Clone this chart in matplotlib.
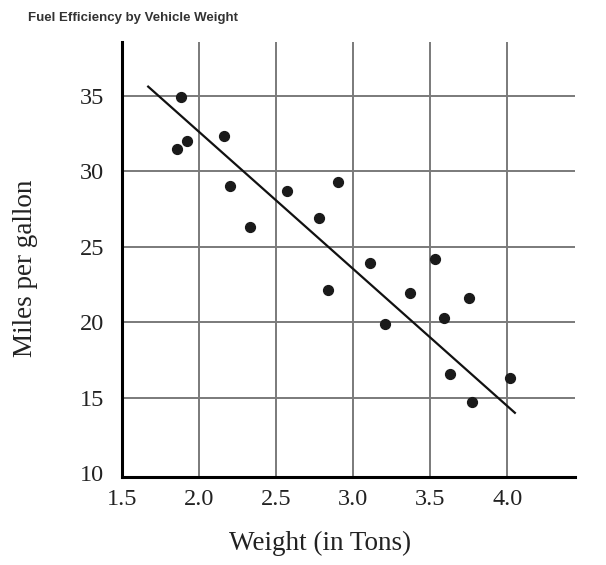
import matplotlib.pyplot as plt

# Data
weight = [1.88, 1.92, 1.86, 2.16, 2.20, 2.33, 2.57, 2.78, 2.90, 2.84,
          3.11, 3.21, 3.37, 3.53, 3.59, 3.75, 3.63, 3.77, 4.02]
mpg = [34.9, 32.0, 31.5, 32.3, 29.0, 26.3, 28.7, 26.9, 29.3, 22.1,
       23.9, 19.9, 21.9, 24.2, 20.3, 21.6, 16.6, 14.7, 16.3]
fit_x = [1.67, 4.05]   # line of best fit endpoints
fit_y = [35.6, 14.0]
xticks = [1.5, 2.0, 2.5, 3.0, 3.5, 4.0]
yticks = [10, 15, 20, 25, 30, 35]

fig = plt.figure(figsize=(6.06, 5.65), dpi=100)
ax = fig.add_axes([0.2013, 0.1558, 0.7475, 0.77])

ax.set_xlim(1.532, 4.44)
ax.set_ylim(9.75, 38.56)

# grid lines (skip the ones on the axes)
for xv in xticks[1:]:
    ax.axvline(xv, color='#7a7a7a', lw=1.4, zorder=1)
for yv in yticks[1:]:
    ax.axhline(yv, color='#7a7a7a', lw=1.4, zorder=1)

ax.scatter(weight, mpg, s=50, color='#1a1a1a', zorder=3)
ax.plot(fit_x, fit_y, color='#111111', lw=1.6, zorder=2)

ax.set_xticks(xticks)
ax.set_xticklabels([f'{v:.1f}' for v in xticks])
ax.set_yticks(yticks)
ax.tick_params(length=0, labelsize=17.5, colors='#222222')
ax.tick_params(axis='y', pad=13)
ax.tick_params(axis='x', pad=9)
for lab in ax.get_xticklabels() + ax.get_yticklabels():
    lab.set_family('Liberation Serif')

ax.spines['top'].set_visible(False)
ax.spines['right'].set_visible(False)
ax.spines['left'].set_linewidth(2.2)
ax.spines['bottom'].set_linewidth(2.2)

ax.set_xlabel('Weight (in Tons)', family='Liberation Serif', fontsize=19.5, color='#222222')
ax.set_ylabel('Miles per gallon', family='Liberation Serif', fontsize=19.5, color='#222222')
ax.xaxis.set_label_coords(0.437, -0.123)
ax.yaxis.set_label_coords(-0.185, 0.48)

fig.text(0.046, 0.969, 'Fuel Efficiency by Vehicle Weight', family='Liberation Sans',
         fontweight='bold', fontsize=9.5, color='#333333', va='center')

fig.savefig('out.png', dpi=100)
